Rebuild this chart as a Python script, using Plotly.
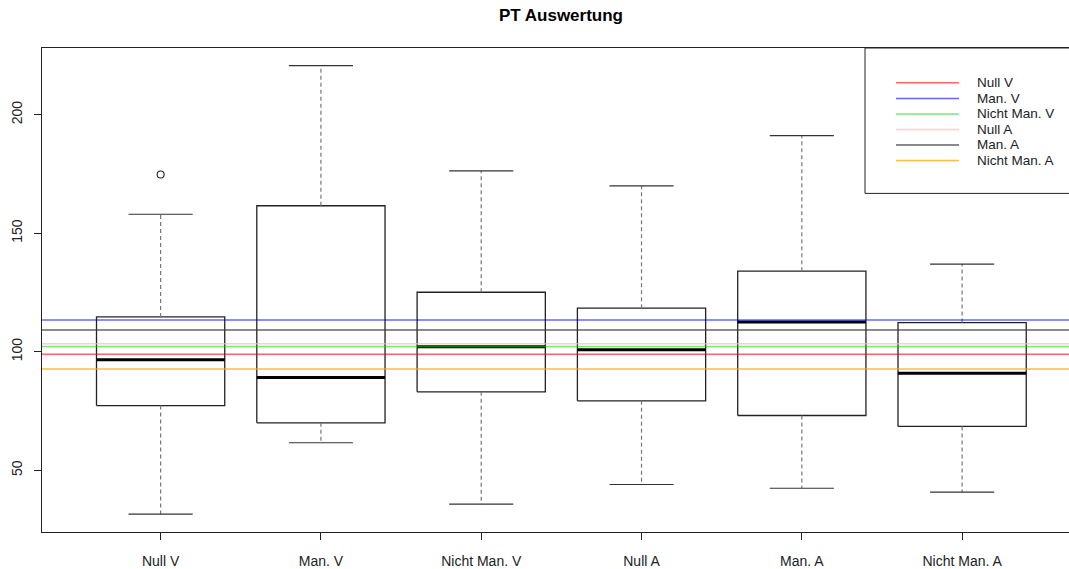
import plotly.graph_objects as go

# ---- data ----
categories = ["Null V", "Man. V", "Nicht Man. V", "Null A", "Man. A", "Nicht Man. A"]
lower_whisker = [31.5, 61.6, 35.7, 44.0, 42.4, 40.8]
q1 = [77.3, 70.0, 83.1, 79.3, 73.1, 68.5]
median = [96.6, 89.1, 102.1, 100.8, 112.5, 90.9]
q3 = [114.7, 161.6, 125.1, 118.4, 134.0, 112.3]
upper_whisker = [158.0, 220.7, 176.3, 170.0, 191.2, 137.0]
outlier_group = [1]
outlier_value = [174.8]

ref_labels = ["Null V", "Man. V", "Nicht Man. V", "Null A", "Man. A", "Nicht Man. A"]
ref_values = [98.9, 113.4, 102.2, 103.4, 109.2, 92.7]
ref_colors = ["rgba(255,0,0,0.6)", "rgba(0,0,255,0.6)", "rgba(0,220,0,0.55)",
              "rgba(255,182,193,0.7)", "rgba(60,60,60,0.8)", "rgba(255,165,0,0.75)"]

y_ticks = [50, 100, 150, 200]

# ---- layout constants ----
W, H = 1069, 569
ML, MR, MT, MB = 42, 0, 48, 35
BOX_HALF = 0.4
CAP_HALF = 0.2
FONT = "Liberation Sans, Arial"

fig = go.Figure()

for i, cat in enumerate(categories):
    c = i + 1
    fig.add_trace(go.Scatter(
        x=[c - BOX_HALF, c + BOX_HALF, c + BOX_HALF, c - BOX_HALF, c - BOX_HALF],
        y=[q1[i], q1[i], q3[i], q3[i], q1[i]],
        mode="lines", line=dict(color="#222", width=1.3), hoverinfo="skip", showlegend=False))
    fig.add_trace(go.Scatter(
        x=[c - BOX_HALF, c + BOX_HALF], y=[median[i], median[i]],
        mode="lines", line=dict(color="black", width=3), hoverinfo="skip", showlegend=False))
    fig.add_trace(go.Scatter(
        x=[c, c, None, c, c],
        y=[q3[i], upper_whisker[i], None, q1[i], lower_whisker[i]],
        mode="lines", line=dict(color="#777", width=1.2, dash="4px,3px"),
        hoverinfo="skip", showlegend=False))
    fig.add_trace(go.Scatter(
        x=[c - CAP_HALF, c + CAP_HALF, None, c - CAP_HALF, c + CAP_HALF],
        y=[upper_whisker[i], upper_whisker[i], None, lower_whisker[i], lower_whisker[i]],
        mode="lines", line=dict(color="#333", width=1.2), hoverinfo="skip", showlegend=False))

fig.add_trace(go.Scatter(
    x=outlier_group, y=outlier_value, mode="markers",
    marker=dict(symbol="circle-open", size=7, color="#222", line=dict(width=1.1)),
    hoverinfo="skip", showlegend=False))

for v, col in zip(ref_values, ref_colors):
    fig.add_shape(type="line", xref="x domain", yref="y", x0=0, x1=1, y0=v, y1=v,
                  line=dict(color=col, width=1.5), layer="above")

plot_w = W - ML - MR
plot_h = H - MT - MB
def px_to_paper_x(px):
    return (px - ML) / plot_w
def px_to_paper_y(py):
    return (H - MB - py) / plot_h

fig.add_shape(type="rect", xref="paper", yref="paper",
              x0=px_to_paper_x(865), x1=1.05, y0=px_to_paper_y(194), y1=1.0,
              line=dict(color="#222", width=1), fillcolor="white", layer="above")
for k, (lab, col) in enumerate(zip(ref_labels, ref_colors)):
    yy = px_to_paper_y(83 + k * 15.6)
    fig.add_shape(type="line", xref="paper", yref="paper",
                  x0=px_to_paper_x(896), x1=px_to_paper_x(959), y0=yy, y1=yy,
                  line=dict(color=col, width=1.5), layer="above")
    fig.add_annotation(xref="paper", yref="paper", x=px_to_paper_x(975), y=yy,
                       text=lab, showarrow=False, xanchor="left", yanchor="middle",
                       font=dict(family=FONT, size=13.5, color="#222"))

fig.update_layout(
    width=W, height=H,
    margin=dict(l=ML, r=MR, t=MT, b=MB),
    paper_bgcolor="white", plot_bgcolor="white",
    title=dict(text="<b>PT Auswertung</b>", x=561 / W, xanchor="center",
               y=1 - 15 / H, yanchor="middle",
               font=dict(family=FONT, size=17, color="black")),
    font=dict(family=FONT, size=14, color="#222"),
    showlegend=False,
)
fig.update_xaxes(
    range=[0.26, 0.26 + plot_w / 160.3],
    tickmode="array", tickvals=list(range(1, len(categories) + 1)), ticktext=categories,
    showline=True, linecolor="#222", linewidth=1, mirror=True,
    ticks="outside", ticklen=7, tickcolor="#222",
    showgrid=False, zeroline=False, ticklabelstandoff=9,
    tickfont=dict(size=14, color="#222"),
)
fig.update_yaxes(
    range=[23.95, 228.15],
    tickmode="array", tickvals=y_ticks,
    showline=True, linecolor="#222", linewidth=1, mirror=False,
    ticks="outside", ticklen=7, tickcolor="#222", tickangle=-90,
    showgrid=False, zeroline=False, ticklabelstandoff=6,
    tickfont=dict(size=14, color="#222"),
)

fig.write_html("out.html", config={"displayModeBar": False},
               post_script="document.body.style.margin='0';document.body.style.overflow='hidden';")
